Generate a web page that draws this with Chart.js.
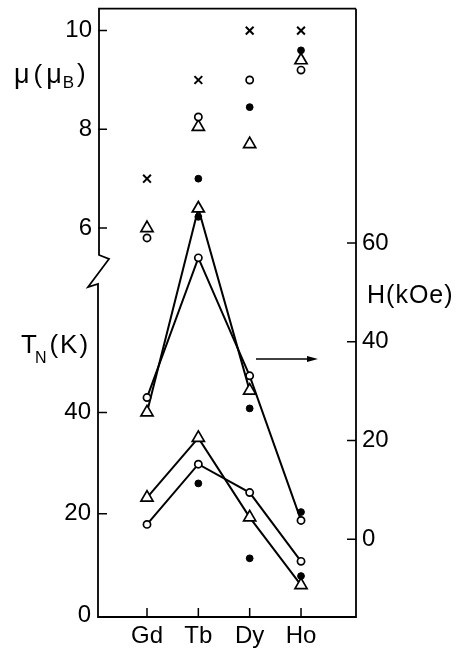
<!DOCTYPE html>
<html lang="en">
<head>
  <meta charset="UTF-8">
  <title>mu, T_N and H for Gd Tb Dy Ho</title>
  <script src="https://cdn.jsdelivr.net/npm/chart.js"></script>
  <style>
    body { margin: 0; background: #fff; }
    #wrap { width: 460px; height: 652px; position: relative; }
  </style>
</head>
<body>
  <div id="wrap"><canvas id="magChart"></canvas></div>

  <script>
    // elements along the x axis
    const categories = ['Gd', 'Tb', 'Dy', 'Ho'];
    const catPos = [1, 2, 3, 4];

    // tick labels
    const muTicks = [6, 8, 10];
    const tnTicks = [0, 20, 40];
    const hTicks = [0, 20, 40, 60];

    // moment mu (mu_B), upper part of left axis
    const muCross = [7.0, 9.0, 10.0, 10.0];
    const muOpen = [5.8, 8.25, 9.0, 9.2];
    const muTri = [6.0, 8.05, 7.7, 9.4];
    const muDot = [null, 7.0, 8.45, 9.6];

    // field H (kOe), right axis
    const hOpen = [28.7, 57, 33.1, 3.8];
    const hTri = [25.7, 67, 30.1, null];
    const hDot = [null, 65.3, 26.5, 5.5];

    // T_N (K), lower part of left axis
    const tnOpen = [17.9, 29.8, 24.2, 10.6];
    const tnTri = [23.2, 35, 19.3, 5.9];
    const tnDot = [null, 26, 11.2, 7.7];

    const FONT = '"Liberation Sans", Arial, sans-serif';

    const pts = arr => arr.map((v, i) => ({ x: catPos[i], y: v }));

    const styles = {
      cross: { pointStyle: 'crossRot', pointRadius: 5.5, pointBorderWidth: 2, pointBackgroundColor: '#000' },
      open:  { pointStyle: 'circle', pointRadius: 3.6, pointBorderWidth: 1.7, pointBackgroundColor: '#fff' },
      dot:   { pointStyle: 'circle', pointRadius: 3.4, pointBorderWidth: 1, pointBackgroundColor: '#000' },
      tri:   { pointStyle: 'triangle', pointRadius: 7, pointBorderWidth: 1.7, pointBackgroundColor: '#fff' }
    };

    function ds(label, arr, axis, style, line) {
      return Object.assign({
        label: label,
        data: pts(arr),
        yAxisID: axis,
        showLine: line,
        spanGaps: false,
        borderColor: '#000',
        borderWidth: 2,
        pointBorderColor: '#000',
        pointHoverRadius: 0,
        clip: false
      }, styles[style]);
    }

    // write a sequence of [text, size, dx-after, dy] pieces
    function pieces(c, x, y, list) {
      list.forEach(p => {
        c.font = p[1] + 'px ' + FONT;
        c.fillText(p[0], x, y + (p[3] || 0));
        x += c.measureText(p[0]).width + p[2];
      });
    }

    // frame, ticks, labels, break mark and arrow
    const axesDecor = {
      id: 'axesDecor',
      beforeDatasetsDraw(chart) {
        const c = chart.ctx, a = chart.chartArea, s = chart.scales;
        c.save();
        c.strokeStyle = '#000';
        c.lineWidth = 1.8;
        // left axis with break
        c.beginPath();
        c.moveTo(a.right, a.top);
        c.lineTo(a.left + 1, a.top);
        c.lineTo(a.left + 1, 255);
        c.lineTo(a.left + 11, 259);
        c.lineTo(a.left - 10, 287);
        c.lineTo(a.left, 284);
        c.lineTo(a.left, a.bottom);
        c.lineTo(a.right, a.bottom);
        c.lineTo(a.right, a.top);
        c.stroke();

        c.lineWidth = 1.5;
        c.beginPath();
        muTicks.forEach(v => { const y = s.yMu.getPixelForValue(v); c.moveTo(a.left, y); c.lineTo(a.left + 9, y); });
        tnTicks.forEach(v => { if (v === 0) return; const y = s.yT.getPixelForValue(v); c.moveTo(a.left, y); c.lineTo(a.left + 9, y); });
        hTicks.forEach(v => { const y = s.yH.getPixelForValue(v); c.moveTo(a.right, y); c.lineTo(a.right - 9, y); });
        catPos.forEach(v => { const x = s.x.getPixelForValue(v); c.moveTo(x, a.bottom); c.lineTo(x, a.bottom - 9); });
        c.stroke();

        // arrow pointing to the right axis
        const ay = s.yH.getPixelForValue(36.5);
        c.lineWidth = 1.4;
        c.beginPath();
        c.moveTo(256, ay);
        c.lineTo(312, ay);
        c.stroke();
        c.fillStyle = '#000';
        c.beginPath();
        c.moveTo(318, ay);
        c.lineTo(307, ay - 3);
        c.lineTo(307, ay + 3);
        c.closePath();
        c.fill();
        c.restore();
      },
      afterDraw(chart) {
        const c = chart.ctx, a = chart.chartArea, s = chart.scales;
        c.save();
        c.fillStyle = '#000';
        c.font = '24px ' + FONT;
        c.textBaseline = 'middle';
        c.textAlign = 'right';
        muTicks.forEach(v => c.fillText(String(v), a.left - 6, s.yMu.getPixelForValue(v)));
        tnTicks.forEach(v => c.fillText(String(v), a.left - 7, s.yT.getPixelForValue(v)));
        c.textAlign = 'left';
        hTicks.forEach(v => c.fillText(String(v), a.right + 6, s.yH.getPixelForValue(v)));
        c.textAlign = 'center';
        categories.forEach((t, i) => c.fillText(t, s.x.getPixelForValue(catPos[i]), a.bottom + 19));

        // axis titles
        c.textAlign = 'left';
        pieces(c, 14, 76, [['\u03bc', 27, 4], ['(', 26, 4], ['\u03bc', 27, 1], ['B', 17, 3, 7], [')', 26, 0, -1]]);
        pieces(c, 21, 346, [['T', 26, -2], ['N', 16, 3, 13], ['(', 26, 2], ['K', 26, 2], [')', 26, 0]]);
        pieces(c, 367, 296, [['H', 25, 1], ['(', 25, 1], ['k', 25, 1], ['O', 25, 1], ['e', 25, 1], [')', 25, 0]]);
        c.restore();
      }
    };

    new Chart(document.getElementById('magChart'), {
      type: 'line',
      data: {
        datasets: [
          ds('T_N open', tnOpen, 'yT', 'open', true),
          ds('T_N triangle', tnTri, 'yT', 'tri', true),
          ds('T_N dot', tnDot, 'yT', 'dot', false),
          ds('H open', hOpen, 'yH', 'open', true),
          ds('H triangle', hTri, 'yH', 'tri', true),
          ds('H dot', hDot, 'yH', 'dot', false),
          ds('mu cross', muCross, 'yMu', 'cross', false),
          ds('mu open', muOpen, 'yMu', 'open', false),
          ds('mu triangle', muTri, 'yMu', 'tri', false),
          ds('mu dot', muDot, 'yMu', 'dot', false)
        ]
      },
      options: {
        responsive: true,
        maintainAspectRatio: false,
        animation: false,
        layout: { padding: { left: 98, right: 104, top: 7, bottom: 35 } },
        plugins: { legend: { display: false }, tooltip: { enabled: false } },
        scales: {
          x: { type: 'linear', min: 0.0455, max: 5.071, display: false },
          yMu: { type: 'linear', min: -1.879, max: 10.444, display: false },
          yT: { type: 'linear', min: -0.394, max: 119.8, display: false },
          yH: { type: 'linear', min: -15.76, max: 107.47, display: false }
        }
      },
      plugins: [axesDecor]
    });
  </script>
</body>
</html>
